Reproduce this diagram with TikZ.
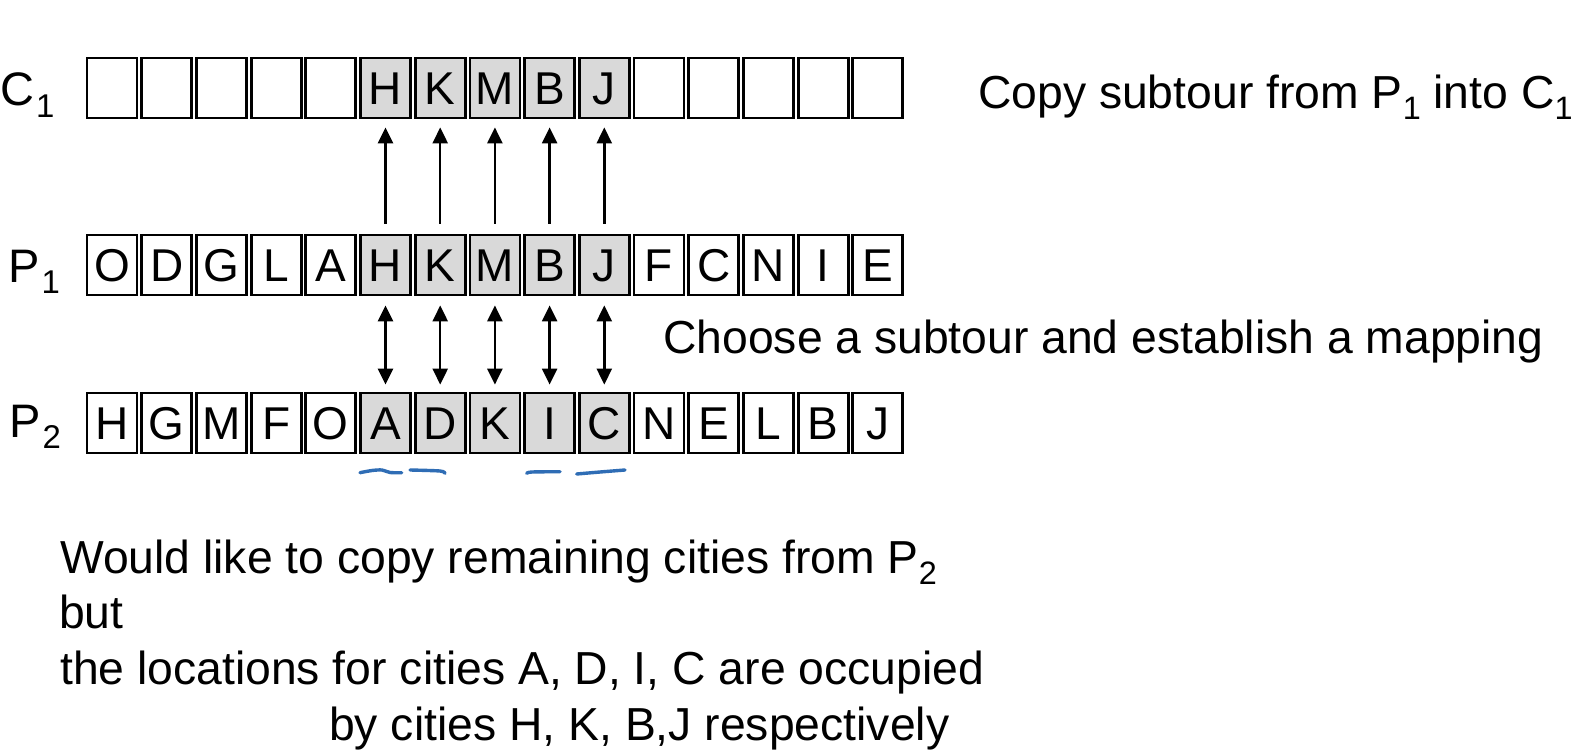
\documentclass[tikz,border=0pt]{standalone}
\usepackage{fontspec}
\setmainfont{Liberation Sans}
\usetikzlibrary{arrows.meta}
\definecolor{boxgray}{HTML}{D9D9D9}
\definecolor{penblue}{HTML}{2F6DB5}
\newcommand\sbs[1]{\raisebox{-0.25em}{\scalebox{0.7}{#1}}}
\begin{document}
\begin{tikzpicture}[x=1pt,y=-1pt,
 cell/.style={draw, line width=2.8pt, minimum width=50pt, minimum height=60pt, inner sep=0pt,
   text height=33pt, text depth=0pt, font=\fontsize{46}{46}\selectfont, anchor=center},
 sel/.style={cell, fill=boxgray},
 txt/.style={anchor=base west, inner sep=0pt, font=\fontsize{46.3}{54}\selectfont},
 lbl/.style={anchor=base west, inner sep=0pt, font=\fontsize{47}{50}\selectfont},
 uparr/.style={line width=2.5pt, -{Triangle[length=16pt,width=15pt]}},
 dblarr/.style={line width=2.5pt, {Triangle[length=16pt,width=15pt]}-{Triangle[length=16pt,width=15pt]}},
 pen/.style={draw=penblue, line width=3.4pt, line cap=round}
]
\useasboundingbox[fill=white] (0,0) rectangle (1588,752);

% row C1
\foreach \l [count=\i from 0] in {x,x,x,x,x,H,K,M,B,J,x,x,x,x,x} {
  \ifnum\i<5 \def\st{cell}\def\tx{}\else\ifnum\i>9 \def\st{cell}\def\tx{}\else\def\st{sel}\def\tx{\l}\fi\fi
  \node[\st] (c\i) at ({112+54.7*\i},88) {\tx};
}
% row P1
\foreach \l [count=\i from 0] in {O,D,G,L,A,H,K,M,B,J,F,C,N,I,E} {
  \ifnum\i<5 \def\st{cell}\else\ifnum\i>9 \def\st{cell}\else\def\st{sel}\fi\fi
  \node[\st] (p\i) at ({112+54.7*\i},265) {\l};
}
% row P2
\foreach \l [count=\i from 0] in {H,G,M,F,O,A,D,K,I,C,N,E,L,B,J} {
  \ifnum\i<5 \def\st{cell}\else\ifnum\i>9 \def\st{cell}\else\def\st{sel}\fi\fi
  \node[\st] (q\i) at ({112+54.7*\i},423) {\l};
}

% arrows
\foreach \i in {5,...,9} {
  \draw[uparr] ([yshift=10pt]p\i.north) -- ([yshift=-8pt]c\i.south);
  \draw[dblarr] ([yshift=-9pt]p\i.south) -- ([yshift=7pt]q\i.north);
}

% row labels
\node[lbl] (lc) at (0,106) {C\kern2pt\sbs{1}};
\node[lbl] (lp1) at (8,282) {P\kern2pt\sbs{1}};
\node[lbl] (lp2) at (9,437) {P\kern2pt\sbs{2}};

% texts
\node[txt] (t1) at (978,108) {Copy subtour from P\sbs{1} into C\sbs{1}};
\node[txt] (t2) at (663,353) {Choose a subtour and establish a mapping};
\node[txt] (t3) at (60,573) {Would like to copy remaining cities from P\sbs{2}};
\node[txt] (t4) at (59,628) {but};
\node[txt] (t5) at (60,684) {the locations for cities A, D, I, C are occupied};
\node[txt] (t6) at (329,740) {by cities H, K, B,J respectively};

% blue hand-drawn underlines
\draw[pen] plot[smooth] coordinates {(360,472.7) (372,470.5) (382,470) (390,472.5) (401.7,472.7)};
\draw[pen] plot[smooth] coordinates {(410,470) (440,471) (445,473.3)};
\draw[pen] plot[smooth] coordinates {(526.7,473.3) (532,472) (560,471.7)};
\draw[pen] plot[smooth] coordinates {(576.7,474) (600,472) (625,470)};
\end{tikzpicture}
\end{document}
